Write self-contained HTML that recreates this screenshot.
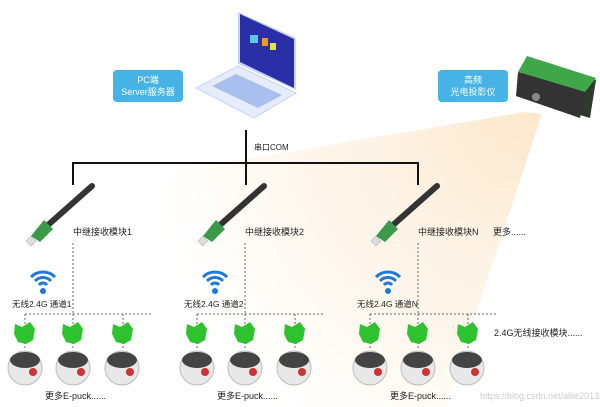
<!DOCTYPE html>
<html><head><meta charset="utf-8"><style>
html,body{margin:0;padding:0;background:#fff;}
svg{display:block;font-family:"Liberation Sans","Noto Sans CJK SC",sans-serif;}
</style></head><body>
<svg width="600" height="407" viewBox="0 0 600 407" xmlns="http://www.w3.org/2000/svg">
<defs>
<radialGradient id="beam" cx="530" cy="115" r="400" gradientUnits="userSpaceOnUse">
<stop offset="0" stop-color="#fce8cc"/><stop offset="0.4" stop-color="#fdf3e6"/><stop offset="0.75" stop-color="#fffaf4"/><stop offset="1" stop-color="#ffffff" stop-opacity="0"/>
</radialGradient>
<g id="grp">
<line x1="73" y1="243" x2="73" y2="313" stroke="#666" stroke-dasharray="2,2"/>
<line x1="25" y1="314" x2="153" y2="314" stroke="#666" stroke-dasharray="2,2"/>
<line x1="25" y1="314" x2="25" y2="350" stroke="#666" stroke-dasharray="2,2"/>
<line x1="73" y1="314" x2="73" y2="350" stroke="#666" stroke-dasharray="2,2"/>
<line x1="123" y1="314" x2="123" y2="350" stroke="#666" stroke-dasharray="2,2"/>
<line x1="92" y1="186" x2="48" y2="225" stroke="#333" stroke-width="6" stroke-linecap="round"/>
<polygon points="44,220 53,229 40,242 31,236" fill="#3a9a4a"/>
<polygon points="31,236 36,241 31,246 26,241" fill="#ddd" stroke="#999" stroke-width="0.5"/>
<text x="73" y="235" font-size="9" fill="#222">中继接收模块</text>
<path d="M31,277 a17,17 0 0 1 24,0" fill="none" stroke="#1e7ad3" stroke-width="3"/>
<path d="M35,281 a11,11 0 0 1 16,0" fill="none" stroke="#1e7ad3" stroke-width="3"/>
<path d="M39,285 a5,5 0 0 1 8,0" fill="none" stroke="#1e7ad3" stroke-width="3"/>
<circle cx="43" cy="291" r="3" fill="#1e7ad3"/>
<g fill="#2ec22e">
<polygon points="15,324 22,327 30,322 35,329 33,340 26,344 18,342 14,334"/>
<polygon points="63,324 70,327 78,322 83,329 81,340 74,344 66,342 62,334"/>
<polygon points="113,324 120,327 128,322 133,329 131,340 124,344 116,342 112,334"/>
</g>
<g>
<ellipse cx="25" cy="368" rx="17" ry="17" fill="#e8e8e8" stroke="#bbb"/><ellipse cx="25" cy="360" rx="15" ry="8" fill="#444"/><circle cx="33" cy="372" r="4" fill="#c33"/>
<ellipse cx="73" cy="368" rx="17" ry="17" fill="#e8e8e8" stroke="#bbb"/><ellipse cx="73" cy="360" rx="15" ry="8" fill="#444"/><circle cx="81" cy="372" r="4" fill="#c33"/>
<ellipse cx="122" cy="368" rx="17" ry="17" fill="#e8e8e8" stroke="#bbb"/><ellipse cx="122" cy="360" rx="15" ry="8" fill="#444"/><circle cx="130" cy="372" r="4" fill="#c33"/>
</g>
<text x="45" y="399" font-size="9" fill="#222">更多E-puck......</text>
</g>
</defs>
<polygon points="525,112 542,114 445,407 60,407 60,190 300,150" fill="url(#beam)"/>
<!-- laptop -->
<polygon points="238,12 296,38 296,90 238,64" fill="#c7d3ff"/>
<polygon points="240,14 294,39 294,88 240,62" fill="#2a2fa8"/>
<rect x="250" y="35" width="8" height="8" fill="#5bc8e0"/><rect x="262" y="38" width="6" height="8" fill="#f39a1a"/><rect x="270" y="43" width="6" height="7" fill="#e8e23a"/>
<polygon points="196,88 238,66 296,93 254,118" fill="#e6ecfb" stroke="#c7d3ff"/>
<polygon points="212,86 236,74 282,95 258,108" fill="#a9c0ee"/>
<!-- labels -->
<rect x="113" y="70" width="70" height="32" rx="4" fill="#45b3e6"/>
<text x="148" y="83" font-size="9" fill="#fff" text-anchor="middle">PC端</text>
<text x="148" y="95" font-size="9" fill="#fff" text-anchor="middle">Server服务器</text>
<rect x="438" y="70" width="70" height="32" rx="4" fill="#45b3e6"/>
<text x="473" y="83" font-size="9" fill="#fff" text-anchor="middle">高频</text>
<text x="473" y="95" font-size="9" fill="#fff" text-anchor="middle">光电投影仪</text>
<!-- projector -->
<polygon points="527,58 596,80 590,118 516,96" fill="#2f3a2f"/>
<polygon points="527,56 596,78 585,92 518,72" fill="#3fa74a"/>
<polygon points="518,72 585,92 580,118 516,96" fill="#333"/>
<circle cx="536" cy="97" r="4" fill="#888"/>
<!-- bus -->
<line x1="246" y1="130" x2="246" y2="185" stroke="#111" stroke-width="2"/>
<text x="254" y="150" font-size="8" fill="#222">串口COM</text>
<path d="M73,185 V163 H418 V185" fill="none" stroke="#111" stroke-width="2"/>
<use href="#grp"/>
<text x="127" y="235" font-size="9" fill="#222">1</text>
<text x="12" y="307" font-size="8.5" fill="#222">无线2.4G 通道1</text>
<use href="#grp" x="172"/>
<text x="299" y="235" font-size="9" fill="#222">2</text>
<text x="184" y="307" font-size="8.5" fill="#222">无线2.4G 通道2</text>
<use href="#grp" x="345"/>
<text x="472" y="235" font-size="9" fill="#222">N</text>
<text x="357" y="307" font-size="8.5" fill="#222">无线2.4G 通道N</text>
<text x="493" y="235" font-size="9" fill="#222">更多......</text>
<text x="494" y="336" font-size="9" fill="#222">2.4G无线接收模块......</text>
<text x="480" y="399" font-size="9" fill="#ccc">https://blog.csdn.net/allie2013</text>
</svg>
</body></html>
